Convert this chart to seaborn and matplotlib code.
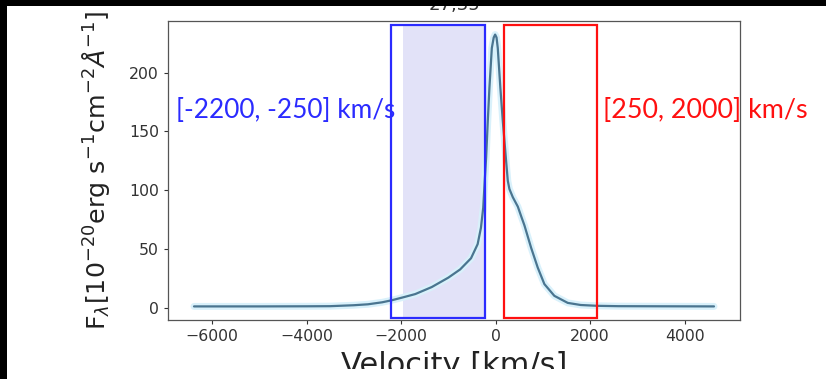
import numpy as np
import pandas as pd
import matplotlib
matplotlib.use("Agg")
import matplotlib.pyplot as plt
from matplotlib.patches import Rectangle
import seaborn as sns

# line profile
vel = [-6380, -5000, -4000, -3500, -3000, -2700, -2400, -2200, -1950, -1700,
       -1350, -1000, -750, -520, -380, -310, -262, -230, -200, -165,
       -131, -80, -40, -10, 20, 46, 101, 152, 222, 258,
       292, 364, 470, 539, 610, 751, 892, 1032, 1243, 1526,
       1800, 2150, 2600, 3500, 4620]
flux = [1.0, 1.0, 1.1, 1.2, 2.0, 2.8, 4.5, 6.2, 8.8, 11.5,
        17.5, 25.5, 32.5, 42, 54, 68, 85, 108, 128, 159,
        187, 221, 230, 232.5, 230, 221, 187, 159, 125, 108,
        101, 94, 86, 78, 70, 51, 34, 20, 10, 4.0,
        2.2, 1.5, 1.2, 1.1, 1.0]

title = "27,35"
blue_box = [-2210, -225]
red_box = [173, 2146]
box_y = [-9, 241]
shade = [-1960, -230]
blue_label = "[-2200, -250] km/s"
red_label = "[250, 2000] km/s"
xticks = [-6000, -4000, -2000, 0, 2000, 4000]
yticks = [0, 50, 100, 150, 200]

df = pd.DataFrame({"vel": vel, "flux": flux})

sns.set_style("ticks")
plt.rcParams["font.family"] = ["DejaVu Sans"]
W, H = 826, 379
fig = plt.figure(figsize=(W / 100, H / 100), dpi=100)
fig.patch.set_facecolor("white")
ax = fig.add_axes([168 / W, 59 / H, 572 / W, 299 / H])

# light halo under the line
ax.plot(df.vel, df.flux, color="#d9f1fb", lw=5, solid_capstyle="round", zorder=2)
sns.lineplot(data=df, x="vel", y="flux", color="#4a7590", lw=1.6, ax=ax, zorder=3)

ax.add_patch(Rectangle((shade[0], box_y[0]), shade[1] - shade[0], box_y[1] - box_y[0],
                       facecolor="#e2e2f8", edgecolor="none", zorder=1))
ax.add_patch(Rectangle((blue_box[0], box_y[0]), blue_box[1] - blue_box[0], box_y[1] - box_y[0],
                       facecolor="none", edgecolor="#2b2bff", lw=1.6, zorder=4))
ax.add_patch(Rectangle((red_box[0], box_y[0]), red_box[1] - red_box[0], box_y[1] - box_y[0],
                       facecolor="none", edgecolor="#ff1010", lw=1.6, zorder=4))

ax.set_xticks(xticks)
ax.set_yticks(yticks)
ax.tick_params(labelsize=11.3, colors="#333333", length=3, width=0.8)
for s in ax.spines.values():
    s.set_color("#555555")
    s.set_linewidth(0.9)

ax.set_title(title, fontsize=13, color="#333333", pad=8)
ax.set_xlabel("Velocity [km/s]", fontsize=22, color="#222222", labelpad=5)
ax.set_ylabel(r"F$_\lambda$[10$^{-20}$erg s$^{-1}$cm$^{-2}$$\AA^{-1}$]",
              fontsize=18.3, color="#222222", labelpad=12)

fig.text(176 / W, 1 - 110 / H, blue_label, color="#2b2bff", fontsize=18.8,
         family=["Lato", "DejaVu Sans"], ha="left", va="center")
fig.text(603 / W, 1 - 110 / H, red_label, color="#ff1010", fontsize=19.4,
         family=["Lato", "DejaVu Sans"], ha="left", va="center")

# screenshot frame: black edges, cropped bottom
fig.patches.append(Rectangle((0, 1 - 6 / H), 1, 6 / H, transform=fig.transFigure,
                             facecolor="black", edgecolor="none", zorder=100))
fig.patches.append(Rectangle((0, 0), 7 / W, 1, transform=fig.transFigure,
                             facecolor="black", edgecolor="none", zorder=100))
fig.patches.append(Rectangle((7 / W, 0), 1, 10 / H, transform=fig.transFigure,
                             facecolor="white", edgecolor="none", zorder=100))

fig.savefig("out.png", dpi=100)
